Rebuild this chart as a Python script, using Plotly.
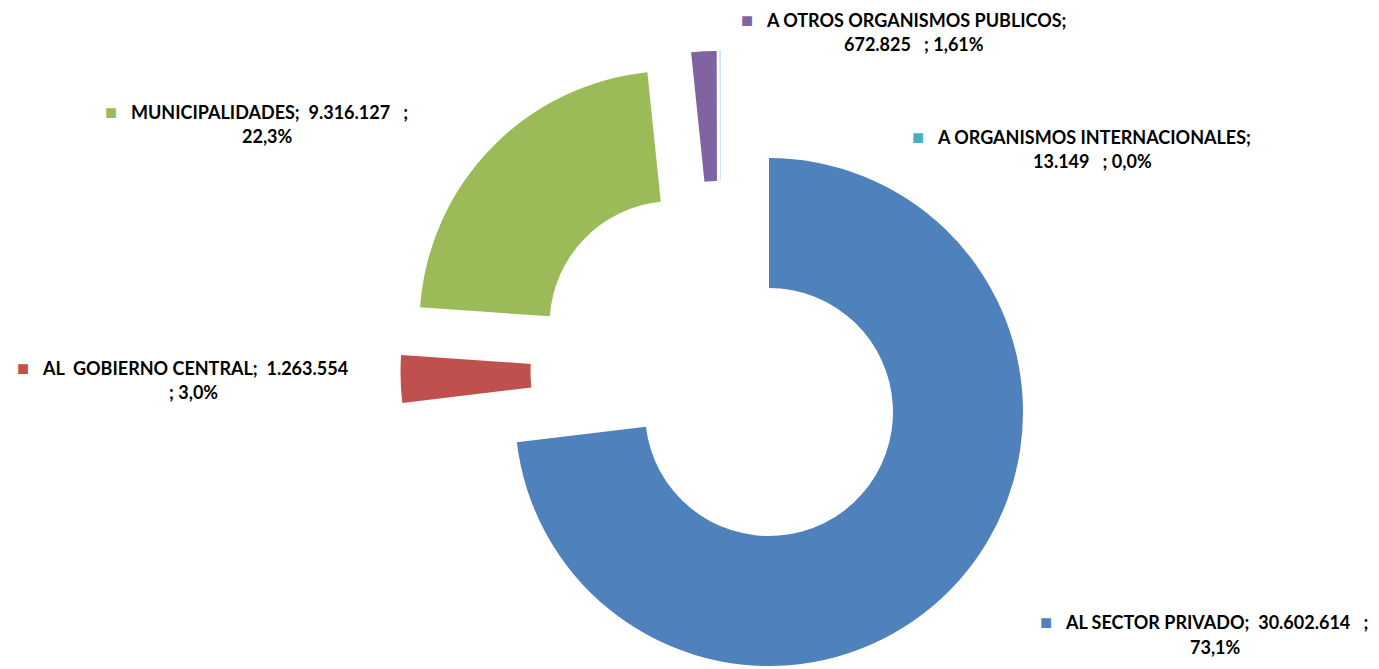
import plotly.graph_objects as go

# ---- data ----
categories = ["AL SECTOR PRIVADO", "AL  GOBIERNO CENTRAL", "MUNICIPALIDADES",
              "A OTROS ORGANISMOS PUBLICOS", "A ORGANISMOS INTERNACIONALES"]
values = [30602614, 1263554, 9316127, 672825, 13149]
pct_decimals = [1, 1, 1, 2, 1]
colors = ["#4F81BD", "#C0504D", "#9BBB59", "#8064A2", "#4BACC6"]

# ---- layout helpers (positions/styles) ----
W, H = 1379, 669
OFF = 8          # default page body margin in the browser
R = 254          # outer radius in px
HOLE = 124 / 254
# exploded slice centres (page px)
centres = [(769, 412), (654.5, 372.6), (673.5, 325), (717.2, 305), (720.3, 305)]
# where the label wraps
breaks = ["num", "num_tight", "num", "name", "name"]
# (text centre x, line-1 y, line-2 y) in page px
label_pos = [(1215, 621, 647), (193, 367, 392), (267, 111, 136),
             (914, 19, 44), (1092, 136, 161)]
KEY_SHIFT = 11   # half the width of the colour key + gap in front of line 1

total = sum(values)
NB = "\u00a0"


def fmt_num(v):
    return f"{v:,}".replace(",", ".")


def fmt_pct(v, d):
    return f"{v / total * 100:.{d}f}".replace(".", ",") + "%"


fig = go.Figure()
for i, (cx, cy) in enumerate(centres):
    cx -= OFF
    cy -= OFF
    cols = ["rgba(0,0,0,0)"] * len(values)
    cols[i] = colors[i]
    fig.add_trace(go.Pie(
        labels=categories, values=values, sort=False, direction="clockwise",
        rotation=0, hole=HOLE, textinfo="none", showlegend=False,
        marker=dict(colors=cols, line=dict(width=0)),
        domain=dict(x=[(cx - R) / W, (cx + R) / W],
                    y=[1 - (cy + R) / H, 1 - (cy - R) / H]),
    ))

annotations = []
for i, name in enumerate(categories):
    num = fmt_num(values[i])
    pct = fmt_pct(values[i], pct_decimals[i])
    b = breaks[i]
    if b == "name":
        l1 = f"{name};"
        l2 = f"{num}   ; {pct}"
    elif b == "num":
        l1 = f"{name};  {num}   ;"
        l2 = pct
    else:
        l1 = f"{name};  {num}"
        l2 = f"; {pct}"
    l1 = l1.replace(" ", NB)
    l2 = l2.replace(" ", NB)
    sq = f"<span style='font-size:20px;color:{colors[i]}'>■</span>"
    line1 = f"{sq}{NB}{NB}{NB}<b>{l1}</b>"
    xc, y1, y2 = label_pos[i]
    for txt, xx, yy in ((line1, xc - KEY_SHIFT, y1), (f"<b>{l2}</b>", xc, y2)):
        annotations.append(dict(
            x=(xx - OFF) / W, y=1 - (yy - OFF) / H, xref="paper", yref="paper",
            text=txt, showarrow=False, xanchor="center", yanchor="middle",
            font=dict(family="Lato", size=18, color="#000000"),
        ))

fig.update_layout(
    width=W, height=H, margin=dict(l=0, r=0, t=0, b=0),
    paper_bgcolor="white", plot_bgcolor="white",
    annotations=annotations,
)
fig.write_html("out.html")
